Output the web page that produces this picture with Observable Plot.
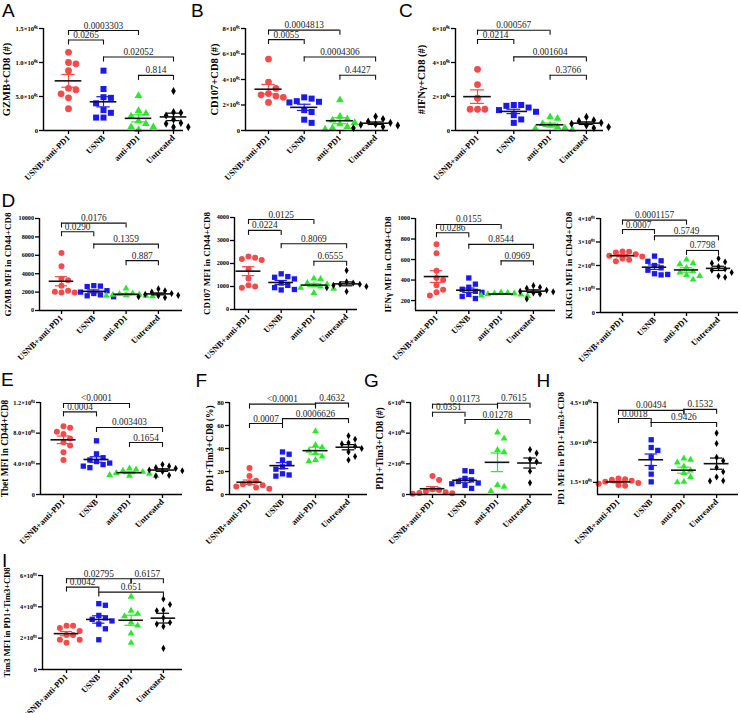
<!DOCTYPE html>
<html>
<head>
<meta charset="utf-8">
<script src="https://cdn.jsdelivr.net/npm/d3@7"></script>
<script src="https://cdn.jsdelivr.net/npm/@observablehq/plot@0.6"></script>
<style>
html,body{margin:0;padding:0;background:#fff;}
#fig{position:relative;width:740px;height:713px;overflow:hidden;background:#fff;}
.panel{position:absolute;}
.panel svg{overflow:visible;}
.letter{position:absolute;font-family:"Liberation Sans",Arial,sans-serif;font-size:19px;line-height:19px;color:#000;}
</style>
</head>
<body>
<div id="fig"></div>
<script>
const groups = ["USNB+anti-PD1","USNB","anti-PD1","Untreated"];
const groupColors = ["#f44a4a","#1a1af0","#2ce82c","#000000"];
const groupSymbols = ["circle","square","triangle","diamond"];

// A
const gzmbCount = [
  [1.15e6,1.0e6,0.98e6,0.88e6,0.62e6,0.6e6,0.54e6,0.48e6,0.32e6],
  [0.88e6,0.61e6,0.49e6,0.48e6,0.40e6,0.30e6,0.26e6,0.19e6,0.19e6],
  [0.51e6,0.29e6,0.25e6,0.21e6,0.14e6,0.10e6,0.05e6,0.05e6,0.01e6],
  [0.58e6,0.27e6,0.26e6,0.22e6,0.16e6,0.11e6,0.10e6,0.05e6,0.05e6]];
const gzmbCountTicks = [0,5e5,1e6,1.5e6];
const gzmbCountTickLabels = ["0","5.0×10⁰⁵","1.0×10⁰⁶","1.5×10⁰⁶"];
const gzmbCountP = [{a:0,b:2,p:"0.0003303",y:1.47e6},{a:0,b:1,p:"0.0265",y:1.33e6},{a:1,b:3,p:"0.02052",y:1.08e6},{a:2,b:3,p:"0.814",y:0.81e6}];

// B
const cd107Count = [
  [5.6e5,3.8e5,3.3e5,2.9e5,2.8e5,2.7e5,2.6e5,2.2e5],
  [2.6e5,2.5e5,2.3e5,2.25e5,2.2e5,1.6e5,1.45e5,0.85e5,0.6e5],
  [2.4e5,1.1e5,0.9e5,0.8e5,0.6e5,0.5e5,0.3e5,0.2e5,0.1e5],
  [1.1e5,0.9e5,0.7e5,0.6e5,0.5e5,0.45e5,0.4e5,0.3e5,0.2e5]];
const cd107CountTicks = [0,2e5,4e5,6e5,8e5];
const cd107CountTickLabels = ["0","2×10⁰⁵","4×10⁰⁵","6×10⁰⁵","8×10⁰⁵"];
const cd107CountP = [{a:0,b:2,p:"0.0004813",y:7.87e5},{a:0,b:1,p:"0.0055",y:7.13e5},{a:1,b:3,p:"0.0004306",y:5.77e5},{a:2,b:3,p:"0.4427",y:4.33e5}];

// C
const ifngCount = [
  [3.6e6,2.7e6,1.9e6,1.25e6,1.25e6,1.25e6],
  [1.5e6,1.5e6,1.45e6,1.35e6,1.2e6,1.1e6,0.9e6,0.65e6,0.45e6],
  [0.8e6,0.7e6,0.4e6,0.3e6,0.2e6,0.15e6,0.1e6,0.05e6],
  [0.8e6,0.6e6,0.55e6,0.45e6,0.4e6,0.3e6,0.2e6,0.15e6]];
const ifngCountTicks = [0,2e6,4e6,6e6];
const ifngCountTickLabels = ["0","2×10⁰⁶","4×10⁰⁶","6×10⁰⁶"];
const ifngCountP = [{a:0,b:2,p:"0.000567",y:5.9e6},{a:0,b:1,p:"0.0214",y:5.35e6},{a:1,b:3,p:"0.001604",y:4.33e6},{a:2,b:3,p:"0.3766",y:3.25e6}];

// D1
const gzmbMfi = [
  [6250,4800,3450,3300,2700,2150,2050,1950,1950],
  [2700,2650,2600,2150,2000,1850,1700,1600,1500],
  [2400,1850,1800,1750,1700,1650,1600,1600,1550],
  [2350,2150,2000,1850,1750,1650,1600,1500,1400]];
const gzmbMfiTicks = [0,2000,4000,6000,8000,10000];
const gzmbMfiTickLabels = ["0","2000","4000","6000","8000","10000"];
const gzmbMfiP = [{a:0,b:2,p:"0.0176",y:9500},{a:0,b:1,p:"0.0290",y:8560},{a:1,b:3,p:"0.1359",y:7220},{a:2,b:3,p:"0.887",y:5420}];

// D2
const cd107Mfi = [
  [2300,2250,2200,2150,1750,1350,1050,1000,950],
  [1550,1430,1400,1330,1150,1050,950,870,850],
  [1350,1330,1150,1100,1050,1000,950,900,720],
  [1700,1200,1150,1100,1100,1050,1000,950,780]];
const cd107MfiTicks = [0,1000,2000,3000,4000];
const cd107MfiTickLabels = ["0","1000","2000","3000","4000"];
const cd107MfiP = [{a:0,b:2,p:"0.0125",y:3910},{a:0,b:1,p:"0.0224",y:3440},{a:1,b:3,p:"0.8069",y:2860},{a:2,b:3,p:"0.6555",y:2100}];

// D3
const ifngMfi = [
  [750,660,490,420,400,350,305,280,250],
  [420,360,330,310,290,280,260,240,220],
  [280,275,270,268,262,258,250,245],
  [345,330,320,300,290,285,275,265,215]];
const ifngMfiTicks = [200,400,600,800,1000];
const ifngMfiTickLabels = ["200","400","600","800","1000"];
const ifngMfiP = [{a:0,b:2,p:"0.0155",y:942},{a:0,b:1,p:"0.0286",y:861},{a:1,b:3,p:"0.8544",y:748},{a:2,b:3,p:"0.0969",y:587}];

// D4
const klrg1Mfi = [
  [2600,2580,2550,2480,2420,2380,2300,2250,2180],
  [2400,2200,2180,2000,1900,1800,1650,1620,1600],
  [2250,2100,2050,1900,1750,1700,1600,1550,1400],
  [2300,2150,2100,1950,1850,1800,1700,1550,1500]];
const klrg1MfiTicks = [0,1000,2000,3000,4000];
const klrg1MfiTickLabels = ["0","1×10⁰³","2×10⁰³","3×10⁰³","4×10⁰³"];
const klrg1MfiP = [{a:0,b:2,p:"0.0001157",y:3930},{a:0,b:1,p:"0.0007",y:3530},{a:1,b:3,p:"0.5749",y:3260},{a:2,b:3,p:"0.7798",y:2640}];

// E
const tbetMfi = [
  [8900,8700,8200,7900,7300,6800,6400,5500,4500],
  [7000,5300,4800,4500,4300,4100,3900,3700,3500],
  [3400,3250,3100,2950,2800,2700,2550,2450,2400],
  [3900,3700,3500,3400,3200,3100,3000,2500,2400]];
const tbetMfiTicks = [0,4000,8000,12000];
const tbetMfiTickLabels = ["0","4.0×10⁰³","8.0×10⁰³","1.2×10⁰⁴"];
const tbetMfiP = [{a:0,b:2,p:"<0.0001",y:11870},{a:0,b:1,p:"0.0004",y:10780},{a:1,b:3,p:"0.003403",y:8740},{a:2,b:3,p:"0.1654",y:6780}];

// F
const pd1Tim3Pct = [
  [23,16,12,10,9,8,7,6,5],
  [37,35,30,27,24,22,18,17,16],
  [55,43,41,38,36,33,30,29],
  [51,48,45,44,42,40,37,33,30]];
const pd1Tim3PctTicks = [0,20,40,60,80];
const pd1Tim3PctTickLabels = ["0","20","40","60","80"];
const pd1Tim3PctP = [{a:0,b:2,p:"<0.0001",y:78.6},{a:2,b:3,p:"0.4632",y:79.5},{a:1,b:3,p:"0.0006626",y:66},{a:0,b:1,p:"0.0007",y:61.7}];

// G
const pd1Tim3Count = [
  [1.2e6,0.95e6,0.35e6,0.3e6,0.2e6,0.15e6,0.1e6,0.08e6,0.05e6],
  [1.55e6,1.5e6,1.05e6,0.95e6,0.85e6,0.75e6,0.7e6,0.6e6,0.4e6],
  [4.05e6,3.65e6,2.9e6,2.75e6,0.62e6,0.5e6,0.22e6],
  [2.93e6,2.7e6,2.28e6,2.13e6,1.52e6,0.76e6]];
const pd1Tim3CountTicks = [0,2e6,4e6,6e6];
const pd1Tim3CountTickLabels = ["0","2×10⁰⁶","4×10⁰⁶","6×10⁰⁶"];
const pd1Tim3CountP = [{a:0,b:2,p:"0.01173",y:5.89e6},{a:2,b:3,p:"0.7615",y:5.95e6},{a:0,b:1,p:"0.0351",y:5.36e6},{a:1,b:3,p:"0.01278",y:4.89e6}];

// H
const pd1Mfi = [
  [1650,1620,1600,1560,1520,1480,1450,1400,1370],
  [3100,2810,2700,2450,2060,1810,1520],
  [2400,2350,2250,2100,1950,1850,1700,1520,1500],
  [3350,2960,2440,2310,2060,1900,1700,1560,1550]];
const pd1MfiTicks = [1500,3000,4500];
const pd1MfiTickLabels = ["1.5×10⁰³","3.0×10⁰³","4.5×10⁰³"];
const pd1MfiP = [{a:0,b:2,p:"0.00494",y:4206},{a:2,b:3,p:"0.1532",y:4243},{a:0,b:1,p:"0.0018",y:3898},{a:1,b:3,p:"0.9426",y:3750}];

// I
const tim3Mfi = [
  [2800,2800,2650,2450,2200,2200,1900,1900,1700],
  [4200,4100,3450,3300,3200,3100,2900,2600,1900],
  [4650,3750,3550,3400,3000,2800,2300,1700],
  [4500,4150,3800,3750,3300,3000,2900,2750,1350]];
const tim3MfiTicks = [0,2000,4000,6000];
const tim3MfiTickLabels = ["0","2×10⁰³","4×10⁰³","6×10⁰³"];
const tim3MfiP = [{a:0,b:2,p:"0.02795",y:5790},{a:2,b:3,p:"0.6157",y:5790},{a:0,b:1,p:"0.0042",y:5260},{a:1,b:3,p:"0.651",y:4940}];

const specs = [
  {data:gzmbCount, ticks:gzmbCountTicks, tickLabels:gzmbCountTickLabels, brackets:gzmbCountP, domain:[0,1.5e6], label:"GZMB+CD8 (#)"},
  {data:cd107Count, ticks:cd107CountTicks, tickLabels:cd107CountTickLabels, brackets:cd107CountP, domain:[0,8e5], label:"CD107+CD8 (#)"},
  {data:ifngCount, ticks:ifngCountTicks, tickLabels:ifngCountTickLabels, brackets:ifngCountP, domain:[0,6e6], label:"#IFNγ+CD8 (#)"},
  {data:gzmbMfi, ticks:gzmbMfiTicks, tickLabels:gzmbMfiTickLabels, brackets:gzmbMfiP, domain:[0,10000], label:"GZMB MFI in CD44+CD8"},
  {data:cd107Mfi, ticks:cd107MfiTicks, tickLabels:cd107MfiTickLabels, brackets:cd107MfiP, domain:[0,4000], label:"CD107 MFI in CD44+CD8"},
  {data:ifngMfi, ticks:ifngMfiTicks, tickLabels:ifngMfiTickLabels, brackets:ifngMfiP, domain:[103,1000], label:"IFNγ MFI in CD44+CD8"},
  {data:klrg1Mfi, ticks:klrg1MfiTicks, tickLabels:klrg1MfiTickLabels, brackets:klrg1MfiP, domain:[0,4000], label:"KLRG1 MFI in CD44+CD8"},
  {data:tbetMfi, ticks:tbetMfiTicks, tickLabels:tbetMfiTickLabels, brackets:tbetMfiP, domain:[0,12000], label:"Tbet MFI in CD44+CD8"},
  {data:pd1Tim3Pct, ticks:pd1Tim3PctTicks, tickLabels:pd1Tim3PctTickLabels, brackets:pd1Tim3PctP, domain:[0,80], label:"PD1+Tim3+CD8 (%)"},
  {data:pd1Tim3Count, ticks:pd1Tim3CountTicks, tickLabels:pd1Tim3CountTickLabels, brackets:pd1Tim3CountP, domain:[0,6e6], label:"PD1+Tim3+CD8 (#)"},
  {data:pd1Mfi, ticks:pd1MfiTicks, tickLabels:pd1MfiTickLabels, brackets:pd1MfiP, domain:[1045,4500], label:"PD1 MFI in PD1+Tim3+CD8"},
  {data:tim3Mfi, ticks:tim3MfiTicks, tickLabels:tim3MfiTickLabels, brackets:tim3MfiP, domain:[0,6000], label:"Tim3 MFI in PD1+Tim3+CD8"}
];

// layout (pixels on the page)
const layouts = [
  {axisX:43, xEnd:183, cat0:68, step:35, yTop:28, yBot:130, lblOff:37, lblFs:10.5, tickFs:6.6, r:3.4},
  {axisX:245, xEnd:388, cat0:268, step:35.7, yTop:28, yBot:130, lblOff:31, lblFs:10.5, tickFs:6.6, r:3.4},
  {axisX:455, xEnd:603, cat0:477, step:36.3, yTop:28, yBot:130, lblOff:34, lblFs:10.5, tickFs:6.6, r:3.4},
  {axisX:39, xEnd:182, cat0:61, step:32.3, yTop:218, yBot:310, lblOff:31, lblFs:9, tickFs:6.2, r:3},
  {axisX:234, xEnd:357, cat0:248, step:32.7, yTop:217, yBot:309, lblOff:27, lblFs:9, tickFs:6.2, r:3},
  {axisX:415, xEnd:555, cat0:436, step:32.3, yTop:218, yBot:310, lblOff:27, lblFs:9, tickFs:6.2, r:3},
  {axisX:600, xEnd:738, cat0:622, step:32, yTop:218, yBot:312, lblOff:31, lblFs:9, tickFs:6.3, r:3},
  {axisX:40, xEnd:182, cat0:63, step:33, yTop:402, yBot:494, lblOff:35, lblFs:9.3, tickFs:6.3, r:3},
  {axisX:229, xEnd:367, cat0:249, step:33, yTop:402, yBot:494, lblOff:20, lblFs:9.5, tickFs:6.8, r:3},
  {axisX:410, xEnd:552, cat0:432, step:32.5, yTop:402, yBot:494, lblOff:31, lblFs:9.6, tickFs:6.3, r:3},
  {axisX:597, xEnd:738, cat0:618, step:32.7, yTop:402, yBot:494, lblOff:36, lblFs:9, tickFs:6.4, r:3},
  {axisX:42, xEnd:182, cat0:66, step:32.3, yTop:575, yBot:669, lblOff:35, lblFs:8.5, tickFs:6.3, r:3}
];

const letters = [["A",2,1],["B",191,1],["C",399,1],["D",1.5,191],["E",1,370],["F",195.5,371],["G",364,371],["H",536.5,371],["I",2,551]];

const fig = document.getElementById("fig");

// deterministic scatter layout: push overlapping points sideways
function spread(ys, r) {
  const n = ys.length, d = 2 * r + 0.6;
  const order = d3.range(n).sort((a, b) => ys[b] - ys[a]);
  const placed = [], off = new Array(n).fill(0);
  const cands = [0];
  for (let k = 1; k < 8; k++) cands.push(k * d, -k * d);
  for (const i of order) {
    for (const c of cands) {
      if (placed.every(p => Math.hypot(p.x - c, p.y - ys[i]) >= d)) {
        off[i] = c; placed.push({x: c, y: ys[i]}); break;
      }
    }
  }
  return off;
}

function makePanel(spec, lay) {
  const ML = 60, MR = 8, MT = 30, MB = 75;
  const pw = lay.xEnd - lay.axisX, ph = lay.yBot - lay.yTop;
  const W = ML + pw + MR, H = MT + ph + MB;
  const xd = [(lay.axisX - lay.cat0) / lay.step, (lay.xEnd - lay.cat0) / lay.step];
  const yd = spec.domain;
  const pxY = ph / (yd[1] - yd[0]);
  const tickMap = new Map(spec.ticks.map((t, i) => [t, spec.tickLabels[i]]));
  const tk = 5 / pxY;
  const ends = spec.brackets.flatMap(b => [{x: b.a, y: b.y}, {x: b.b, y: b.y}]);
  const mw = 0.38, cw = 0.19;
  const symR = [1, 1, 0.85, 0.72];
  const marks = [
    Plot.ruleY(spec.brackets, {y: "y", x1: "a", x2: "b", stroke: "#111", strokeWidth: 1.1}),
    Plot.ruleX(ends, {x: "x", y1: "y", y2: d => d.y - tk, stroke: "#111", strokeWidth: 1.1}),
    Plot.text(spec.brackets, {x: d => (d.a + d.b) / 2, y: "y", text: "p", dy: -5, fontSize: 9.3, fontWeight: "normal", fill: "#222"})
  ];
  spec.data.forEach((vals, g) => {
    const offs = spread(vals.map(v => v * pxY), lay.r);
    const pts = vals.map((v, i) => ({v, x: g + offs[i] / lay.step}));
    const m = d3.mean(vals), s = d3.deviation(vals) / Math.sqrt(vals.length);
    const st = [{g, m, lo: m - s, hi: m + s}];
    marks.push(
      Plot.dot(pts, {x: "x", y: "v", symbol: groupSymbols[g], fill: groupColors[g], r: lay.r * symR[g]}),
      Plot.ruleX(st, {x: "g", y1: "lo", y2: "hi", stroke: groupColors[g], strokeWidth: 1.2}),
      Plot.ruleY(st, {y: "lo", x1: d => d.g - cw, x2: d => d.g + cw, stroke: groupColors[g], strokeWidth: 1.2}),
      Plot.ruleY(st, {y: "hi", x1: d => d.g - cw, x2: d => d.g + cw, stroke: groupColors[g], strokeWidth: 1.2}),
      Plot.ruleY(st, {y: "m", x1: d => d.g - mw, x2: d => d.g + mw, stroke: "#111", strokeWidth: 1.6})
    );
  });
  marks.push(
    Plot.ruleX([xd[0]], {y1: () => yd[0], y2: () => yd[1], stroke: "#000", strokeWidth: 1.4}),
    Plot.ruleY([yd[0]], {x1: () => xd[0], x2: () => xd[1], stroke: "#000", strokeWidth: 1.4}),
    Plot.axisY({ticks: spec.ticks, tickFormat: d => tickMap.get(d), tickSize: 4, tickPadding: 1.5, fontSize: lay.tickFs, strokeWidth: 1.3, label: null}),
    Plot.axisX({ticks: [0, 1, 2, 3], tickFormat: i => groups[i], tickRotate: -45, tickSize: 4, tickPadding: 2, fontSize: 8.5, strokeWidth: 1.3, label: null}),
    Plot.text([spec.label], {frameAnchor: "left", textAnchor: "middle", lineAnchor: "middle", dx: -lay.lblOff, rotate: -90, text: d => d, fontSize: lay.lblFs})
  );
  const svg = Plot.plot({
    width: W, height: H, marginLeft: ML, marginRight: MR, marginTop: MT, marginBottom: MB,
    x: {domain: xd}, y: {domain: yd},
    style: {fontFamily: '"Liberation Serif", "Times New Roman", serif', fontWeight: "bold", background: "transparent", overflow: "visible", color: "#000"},
    marks
  });
  const div = document.createElement("div");
  div.className = "panel";
  div.style.left = (lay.axisX - ML) + "px";
  div.style.top = (lay.yTop - MT) + "px";
  div.style.width = W + "px";
  div.appendChild(svg);
  fig.appendChild(div);
}

specs.forEach((s, i) => makePanel(s, layouts[i]));

letters.forEach(([t, x, y]) => {
  const d = document.createElement("div");
  d.className = "letter";
  d.textContent = t;
  d.style.left = x + "px";
  d.style.top = y + "px";
  fig.appendChild(d);
});
</script>
</body>
</html>
